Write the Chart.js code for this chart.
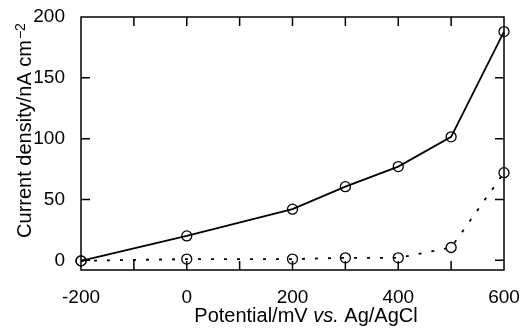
<!DOCTYPE html>
<html>
<head>
<meta charset="utf-8">
<script src="https://cdn.jsdelivr.net/npm/chart.js@4"></script>
<style>
  html, body { margin: 0; padding: 0; background: #fff; }
  #wrap { width: 524px; height: 331px; }
</style>
</head>
<body>
<div id="wrap"><canvas id="myChart" width="524" height="331"></canvas></div>
<script>
var potentials = [-200, 0, 200, 300, 400, 500, 600];
var solidData = [-0.5, 20, 42, 60.5, 77, 101.5, 188];
var dottedData = [-0.5, 1, 1, 2, 2, 10.5, 72];
var xTickLabels = [-200, 0, 200, 400, 600];
var yTickLabels = [0, 50, 100, 150, 200];

var font = 'Liberation Sans, Arial, Helvetica, sans-serif';

function pts(ys) {
    var out = [];
    for (var i = 0; i < potentials.length; i++) out.push({ x: potentials[i], y: ys[i] });
    return out;
}

// inward ticks on all four sides, plus frame and axis titles
const framePlugin = {
    id: 'frame',
    afterDraw(chart) {
        var ctx = chart.ctx;
        var a = chart.chartArea;
        var xs = chart.scales.x, ys = chart.scales.y;
        ctx.save();
        ctx.strokeStyle = '#000';
        ctx.lineWidth = 1.5;
        ctx.strokeRect(a.left, a.top, a.right - a.left, a.bottom - a.top);
        var len = 9;
        for (var v = -100; v < 600; v += 100) {
            var px = xs.getPixelForValue(v);
            ctx.beginPath();
            ctx.moveTo(px, a.bottom); ctx.lineTo(px, a.bottom - len);
            ctx.moveTo(px, a.top); ctx.lineTo(px, a.top + len);
            ctx.stroke();
        }
        for (var w = 0; w < 200; w += 50) {
            var py = ys.getPixelForValue(w);
            ctx.beginPath();
            ctx.moveTo(a.left, py); ctx.lineTo(a.left + len, py);
            ctx.moveTo(a.right, py); ctx.lineTo(a.right - len, py);
            ctx.stroke();
        }

        ctx.fillStyle = '#000';
        ctx.textBaseline = 'alphabetic';
        // x title with italic "vs."
        var parts = [['Potential/mV ', ''], ['vs.', 'italic '], [' Ag/AgCl', '']];
        var total = 0;
        parts.forEach(function (p) { ctx.font = p[1] + '20px ' + font; total += ctx.measureText(p[0]).width; });
        var x0 = 306 - total / 2;
        parts.forEach(function (p) {
            ctx.font = p[1] + '20px ' + font;
            ctx.fillText(p[0], x0, 322);
            x0 += ctx.measureText(p[0]).width;
        });
        // y title with superscript
        ctx.translate(31, 131);
        ctx.rotate(-Math.PI / 2);
        ctx.font = '20px ' + font;
        var main = 'Current density/nA cm';
        var mw = ctx.measureText(main).width;
        ctx.font = '14px ' + font;
        var sw = ctx.measureText('\u22122').width;
        var start = -(mw + sw) / 2;
        ctx.font = '20px ' + font;
        ctx.fillText(main, start, 0);
        ctx.font = '14px ' + font;
        ctx.fillText('\u22122', start + mw + 1, -6);
        ctx.restore();
    }
};

const config = {
    type: 'line',
    data: {
        datasets: [
            {
                data: pts(solidData),
                borderColor: '#000',
                borderWidth: 1.8,
                pointRadius: 5,
                pointBorderWidth: 1.3,
                pointBackgroundColor: 'rgba(0,0,0,0)',
                pointBorderColor: '#000',
                tension: 0,
            },
            {
                data: pts(dottedData),
                borderColor: '#000',
                borderWidth: 1.8,
                borderDash: [3, 10],
                pointRadius: 5,
                pointBorderWidth: 1.3,
                pointBackgroundColor: 'rgba(0,0,0,0)',
                pointBorderColor: '#000',
                tension: 0,
            },
        ],
    },
    options: {
        responsive: false,
        animation: false,
        clip: false,
        layout: { padding: { left: 0, right: 20, top: 17, bottom: 0 } },
        plugins: { legend: { display: false }, tooltip: { enabled: false } },
        scales: {
            x: {
                type: 'linear',
                min: -200,
                max: 600,
                afterFit: function (s) { s.height = 61; s.paddingLeft = 0; s.paddingRight = 0; },
                afterBuildTicks: function (s) { s.ticks = xTickLabels.map(function (v) { return { value: v }; }); },
                grid: { display: false },
                border: { display: false },
                ticks: { color: '#000', font: { family: font, size: 19 }, padding: 8, maxRotation: 0 },
            },
            y: {
                min: -8,
                max: 200,
                afterFit: function (s) { s.width = 81; s.paddingTop = 0; s.paddingBottom = 0; },
                afterBuildTicks: function (s) { s.ticks = yTickLabels.map(function (v) { return { value: v }; }); },
                grid: { display: false },
                border: { display: false },
                ticks: { color: '#000', font: { family: font, size: 19 }, padding: 8 },
            },
        },
    },
    plugins: [framePlugin],
};

const myChart = new Chart(document.getElementById('myChart'), config);
</script>
</body>
</html>
